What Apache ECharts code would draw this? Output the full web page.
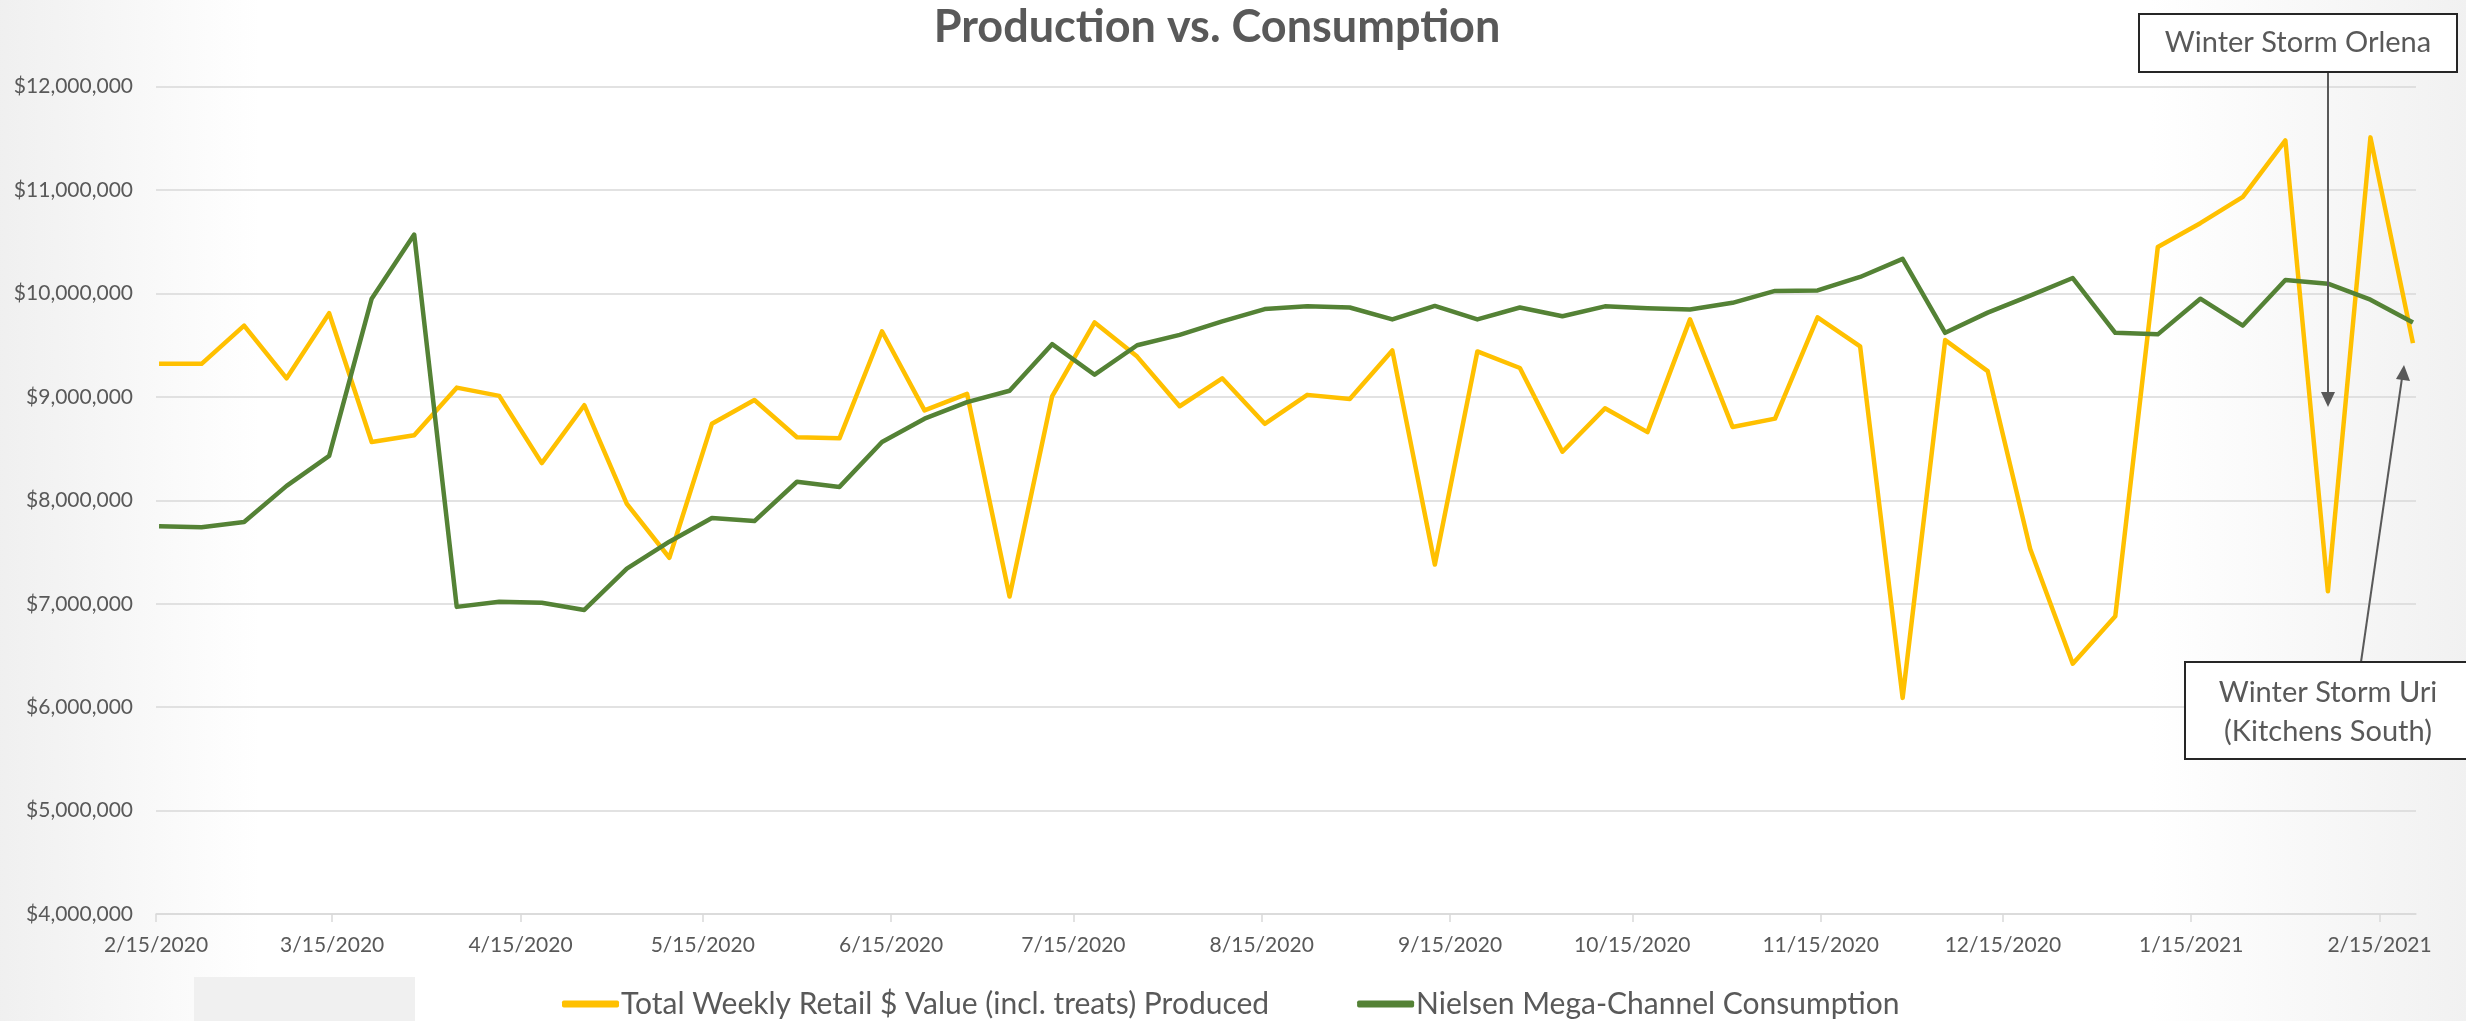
<!DOCTYPE html>
<html><head><meta charset="utf-8">
<script src="https://cdn.jsdelivr.net/npm/echarts@6/dist/echarts.min.js"></script>
<style>html,body{margin:0;padding:0;background:#fff}#c{width:2466px;height:1021px}</style>
</head><body><div id="c"></div>
<script>
// ---------- data ----------
const weekDates = [
  '2020-02-15','2020-02-22','2020-02-29','2020-03-07','2020-03-14','2020-03-21','2020-03-28',
  '2020-04-04','2020-04-11','2020-04-18','2020-04-25','2020-05-02','2020-05-09','2020-05-16',
  '2020-05-23','2020-05-30','2020-06-06','2020-06-13','2020-06-20','2020-06-27','2020-07-04',
  '2020-07-11','2020-07-18','2020-07-25','2020-08-01','2020-08-08','2020-08-15','2020-08-22',
  '2020-08-29','2020-09-05','2020-09-12','2020-09-19','2020-09-26','2020-10-03','2020-10-10',
  '2020-10-17','2020-10-24','2020-10-31','2020-11-07','2020-11-14','2020-11-21','2020-11-28',
  '2020-12-05','2020-12-12','2020-12-19','2020-12-26','2021-01-02','2021-01-09','2021-01-16',
  '2021-01-23','2021-01-30','2021-02-06','2021-02-13','2021-02-20'
];
const produced = [
  9320000, 9320000, 9690000, 9180000, 9810000, 8565000, 8630000, 9090000, 9010000, 8360000,
  8920000, 7965000, 7445000, 8740000, 8970000, 8610000, 8600000, 9635000, 8870000, 9030000,
  7070000, 9005000, 9720000, 9390000, 8910000, 9180000, 8740000, 9020000, 8980000, 9450000,
  7380000, 9440000, 9280000, 8470000, 8890000, 8660000, 9750000, 8710000, 8790000, 9770000,
  9490000, 6090000, 9550000, 9250000, 7530000, 6420000, 6880000, 10450000, 10680000, 10935000,
  11480000, 7120000, 11510000, 9520000
];
const consumption = [
  7750000, 7740000, 7790000, 8140000, 8430000, 9950000, 10570000, 6970000, 7020000, 7010000,
  6940000, 7340000, 7600000, 7830000, 7800000, 8180000, 8130000, 8565000, 8790000, 8950000,
  9060000, 9510000, 9215000, 9500000, 9600000, 9730000, 9850000, 9876000, 9865000, 9750000,
  9880000, 9750000, 9865000, 9780000, 9876000, 9857000, 9846000, 9910000, 10025000, 10030000,
  10160000, 10335000, 9620000, 9815000, 9980000, 10150000, 9620000, 9605000, 9950000, 9690000,
  10130000, 10095000, 9940000, 9720000
];
const tickLabels = [
  '2/15/2020','3/15/2020','4/15/2020','5/15/2020','6/15/2020','7/15/2020','8/15/2020',
  '9/15/2020','10/15/2020','11/15/2020','12/15/2020','1/15/2021','2/15/2021'
];
const seriesNames = ['Total Weekly Retail $ Value (incl. treats) Produced', 'Nielsen Mega-Channel Consumption'];
const titleText = 'Production vs. Consumption';

// ---------- helpers ----------
const DAY = 86400000;
function isoTs(s) { const [y, m, d] = s.split('-').map(Number); return Date.UTC(y, m - 1, d); }
function mdyTs(s) { const [m, d, y] = s.split('/').map(Number); return Date.UTC(y, m - 1, d); }
const T0 = isoTs(weekDates[0]);
const dayOf = ts => Math.round((ts - T0) / DAY);
// Excel date axis: each point sits in the middle of its day slot, so ticks are half a day before.
const tickVals = tickLabels.map(s => dayOf(mdyTs(s)) - 0.5);
function labelFor(v) {
  let best = 0, bd = Infinity;
  tickVals.forEach((t, i) => { const d = Math.abs(t - v); if (d < bd) { bd = d; best = i; } });
  return tickLabels[best];
}
const FONT = 'Lato, "Open Sans", sans-serif';
const TXT = '#595959';

const chart = echarts.init(document.getElementById('c'), null, { renderer: 'canvas' });
chart.setOption({
  backgroundColor: '#ffffff',
  animation: false,
  textStyle: { fontFamily: FONT },
  grid: { left: 156, right: 50, top: 86.7, bottom: 107, containLabel: false },
  legend: {
    left: 557, top: 984, itemGap: 88, itemWidth: 57, itemHeight: 7, icon: 'roundRect',
    textStyle: { color: TXT, fontSize: 30, fontFamily: FONT, padding: [0, 0, 0, -3] },
    data: seriesNames
  },
  xAxis: {
    type: 'value',
    min: dayOf(isoTs('2020-02-15')) - 0.5,
    max: dayOf(isoTs('2021-02-21')) - 0.5,
    axisLine: { show: true, lineStyle: { color: '#d9d9d9', width: 1.5 } },
    axisTick: { show: true, customValues: tickVals, length: 8, lineStyle: { color: '#d9d9d9', width: 1.5 } },
    axisLabel: { customValues: tickVals, formatter: v => labelFor(v), color: TXT, fontSize: 21, margin: 21, fontFamily: FONT },
    splitLine: { show: false }
  },
  yAxis: {
    type: 'value', min: 4000000, max: 12000000, interval: 1000000,
    axisLine: { show: false }, axisTick: { show: false },
    axisLabel: { formatter: v => '$' + v.toLocaleString('en-US'), color: TXT, fontSize: 21, margin: 23, fontFamily: FONT },
    splitLine: { lineStyle: { color: '#d9d9d9', width: 1.5 } }
  },
  series: [
    {
      name: seriesNames[0], type: 'line', showSymbol: false, symbol: 'none',
      data: weekDates.map((d, i) => [dayOf(isoTs(d)), produced[i]]),
      lineStyle: { color: '#FFC000', width: 4.5, join: 'round' }, itemStyle: { color: '#FFC000' }, z: 2
    },
    {
      name: seriesNames[1], type: 'line', showSymbol: false, symbol: 'none',
      data: weekDates.map((d, i) => [dayOf(isoTs(d)), consumption[i]]),
      lineStyle: { color: '#548235', width: 4.5, join: 'round' }, itemStyle: { color: '#548235' }, z: 3
    }
  ],
  graphic: [
    // faint paper texture at the edges
    { type: 'rect', shape: { x: 0, y: 0, width: 260, height: 1021 }, silent: true, z: -10,
      style: { fill: new echarts.graphic.LinearGradient(0, 0, 1, 0, [
        { offset: 0, color: 'rgba(200,200,200,0.28)' }, { offset: 1, color: 'rgba(200,200,200,0)' }]) } },
    { type: 'rect', shape: { x: 2150, y: 0, width: 316, height: 1021 }, silent: true, z: -10,
      style: { fill: new echarts.graphic.LinearGradient(0, 0, 1, 0, [
        { offset: 0, color: 'rgba(200,200,200,0)' }, { offset: 1, color: 'rgba(200,200,200,0.25)' }]) } },
    { type: 'text', x: 1217, y: 27, z: 10,
      style: { text: titleText, font: 'bold 45px ' + FONT, fill: TXT, align: 'center', verticalAlign: 'middle' } },
    { type: 'rect', shape: { x: 194, y: 977, width: 221, height: 44 }, style: { fill: '#f0f0f0' }, z: 1 },
    // Winter Storm Orlena annotation
    { type: 'line', shape: { x1: 2328, y1: 72, x2: 2328, y2: 396 }, style: { stroke: '#595959', lineWidth: 2 }, z: 20 },
    { type: 'polygon', shape: { points: [[2328, 407], [2321, 392], [2335, 392]] }, style: { fill: '#595959' }, z: 20 },
    { type: 'rect', shape: { x: 2139, y: 14, width: 318, height: 58 }, style: { fill: '#ffffff', stroke: '#262626', lineWidth: 2 }, z: 21 },
    { type: 'text', x: 2298, y: 43, z: 22,
      style: { text: 'Winter Storm Orlena', font: '29px ' + FONT, fill: TXT, align: 'center', verticalAlign: 'middle' } },
    // Winter Storm Uri annotation
    { type: 'line', shape: { x1: 2361, y1: 662, x2: 2402, y2: 378 }, style: { stroke: '#595959', lineWidth: 2 }, z: 20 },
    { type: 'polygon', shape: { points: [[2404, 365], [2396, 379], [2410, 381]] }, style: { fill: '#595959' }, z: 20 },
    { type: 'rect', shape: { x: 2185, y: 662, width: 290, height: 97 }, style: { fill: '#ffffff', stroke: '#262626', lineWidth: 2 }, z: 21 },
    { type: 'text', x: 2328, y: 693, z: 22,
      style: { text: 'Winter Storm Uri', font: '29px ' + FONT, fill: TXT, align: 'center', verticalAlign: 'middle' } },
    { type: 'text', x: 2328, y: 732, z: 22,
      style: { text: '(Kitchens South)', font: '29px ' + FONT, fill: TXT, align: 'center', verticalAlign: 'middle' } }
  ]
});
</script></body></html>
